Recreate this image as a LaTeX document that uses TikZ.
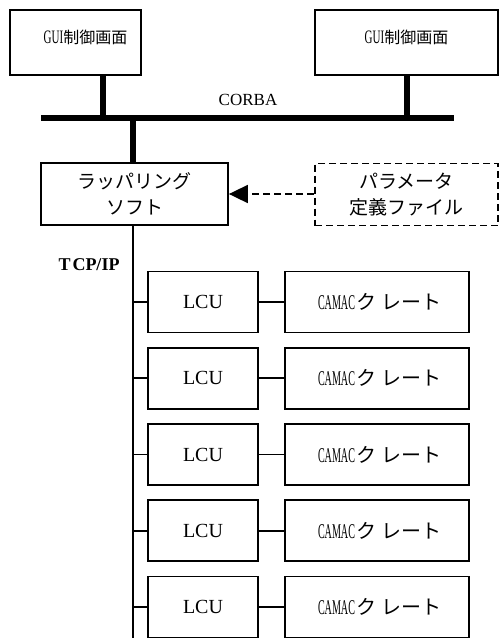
\documentclass[tikz,border=0pt]{standalone}
\usepackage{fontspec}
\setmainfont{Liberation Serif}
\newfontfamily\jp{Noto Sans CJK JP}
\newfontfamily\narrowlat[FakeStretch=0.58]{Liberation Serif}
\newfontfamily\camaclat[FakeStretch=0.48]{Liberation Serif}
\usetikzlibrary{arrows.meta}
\begin{document}
\begin{tikzpicture}[x=1pt,y=-1pt,
  box/.style={draw,line width=1.8pt,inner sep=0pt,anchor=center},
  guibox/.style={box,minimum height=65pt,font=\fontsize{16}{19}\selectfont},
  wbox/.style={box,minimum width=183pt,minimum height=62pt,align=center,font=\jp\fontsize{19}{26}\selectfont},
  lcubox/.style={box,minimum width=110pt,minimum height=61pt,font=\fontsize{20}{24}\selectfont},
  cambox/.style={box,minimum width=184pt,minimum height=61pt,font=\fontsize{18}{22}\selectfont},
  thickline/.style={line width=5.5pt},
  thinline/.style={line width=1.8pt},
  dashline/.style={line width=1.8pt,dash pattern=on 7pt off 4pt}]
\useasboundingbox (0,0) rectangle (499,638);
\clip (0,0) rectangle (499,638);
% GUI boxes
\node[guibox,minimum width=131pt] (gui1) at (75.5,42.5) {\hspace{20pt}\raisebox{11pt}{{\narrowlat\fontsize{19}{22}\selectfont GUI}{\jp 制御画面}}};
\node[guibox,minimum width=183pt] (gui2) at (406.5,42.5) {\raisebox{11pt}{{\narrowlat\fontsize{19}{22}\selectfont GUI}{\jp 制御画面}}};
% CORBA bus
\coordinate (busL) at (41,117.5);
\coordinate (busR) at (454,117.5);
\draw[line width=6pt] (busL) -- (busR);
\node[font=\fontsize{17}{20}\selectfont] (corba) at (248,100) {CORBA};
\coordinate (b1) at (103,117.5);
\coordinate (b2) at (407,117.5);
\coordinate (b3) at (133,117.5);
\draw[thickline] (gui1.south -| b1) -- (b1);
\draw[thickline] (gui2.south -| b2) -- (b2);
% wrapping software and parameter file
\node[wbox,minimum width=187pt] (wrap) at (134.5,194) {ラッパリング\\ソフト};
\node[wbox,dashline] (param) at (406.5,194.5) {パラメータ\\定義ファイル};
\draw[thickline] (b3) -- (wrap.north -| b3);
\draw[dashline,-{Triangle[length=19pt,width=18pt]}] (param.west |- wrap.east) -- (wrap.east);
% TCP/IP trunk
\node[font=\bfseries\fontsize{18}{21}\selectfont] (tcp) at (89,265) {T\hspace{2pt}CP/IP};
\coordinate (tEnd) at (133,645);
\draw[thinline] (wrap.south -| tEnd) -- (tEnd);
% LCU rows
\foreach \i/\y in {1/302,2/378.25,3/454.5,4/530.75,5/607} {
  \node[lcubox] (lcu\i) at (203,\y) {LCU};
  \node[cambox] (cam\i) at (377,\y) {\hspace{6pt}{\camaclat\fontsize{21}{24}\selectfont CAMAC}{\jp\fontsize{20}{24}\selectfont\hspace{2pt}ク\hspace{5pt}レート}};
  \coordinate (t\i) at (133,\y);
  \draw[thinline] (t\i) -- (lcu\i.west);
  \draw[thinline] (lcu\i.east) -- (cam\i.west);
}
\end{tikzpicture}
\end{document}
